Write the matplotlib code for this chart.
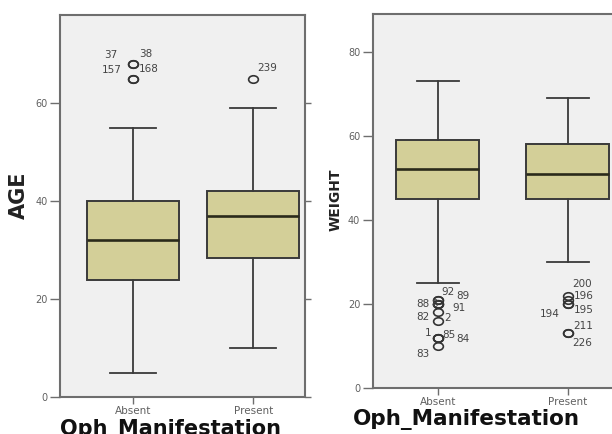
import matplotlib
matplotlib.use("Agg")
import matplotlib.pyplot as plt
from matplotlib.path import Path
from matplotlib.transforms import Affine2D

groups = ["Absent", "Present"]

# AGE summary (whisker low, Q1, median, Q3, whisker high)
age_stats = [[5, 24, 32, 40, 55], [10, 28.5, 37, 42, 59]]
age_out = [[68, 68, 65, 65], [65]]
age_out_labels = [["37", "38", "157", "168"], ["239"]]

# WEIGHT summary
wt_stats = [[25, 45, 52, 59, 73], [30, 45, 51, 58, 69]]
wt_out = [[21, 21, 20, 20, 20, 18, 16, 12, 12, 12, 10],
          [22, 21, 20, 20, 13, 13]]
wt_out_labels = [["92", "89", "88", "8", "91", "82", "2", "1", "85", "84", "83"],
                 ["200", "196", "195", "194", "211", "226"]]

# label offsets in pixels (left edge, vertical centre) from the point
age_offs = [[(-29, 9), (6, 10), (-31, 9), (6, 10)], [(4, 11)]]
wt_offs = [[(4, 8), (19, 4), (-21, 0), (-6, 0), (15, -4), (-21, -5), (7, 3),
            (-13, 5), (5, 3), (19, -1), (-21, -8)],
           [(4, 12), (6, 4), (6, -6), (-28, -10), (5, 7), (4, -10)]]

BOX = "#d3cf98"
EDGE = "#3a3a3a"
BG = "#f0f0f0"
SPINE = "#6e6e6e"

oval = Path.unit_circle().transformed(Affine2D().scale(1.3, 1.0))


def make_stats(stats, outs):
    res = []
    for s, o, g in zip(stats, outs, groups):
        res.append(dict(whislo=s[0], q1=s[1], med=s[2], q3=s[3], whishi=s[4],
                        fliers=o, label=g))
    return res


def draw(ax, stats, outs, labels, offs, width):
    ax.set_facecolor(BG)
    ax.bxp(make_stats(stats, outs), positions=[1, 2], widths=width,
           patch_artist=True,
           boxprops=dict(facecolor=BOX, edgecolor=EDGE, linewidth=1.4),
           medianprops=dict(color="#2a2a1a", linewidth=1.9),
           whiskerprops=dict(color=EDGE, linewidth=1.3),
           capprops=dict(color=EDGE, linewidth=1.3),
           capwidths=width * 0.5,
           flierprops=dict(marker=oval, markersize=7, markerfacecolor="none",
                           markeredgecolor="#333333", markeredgewidth=1.2))
    for i in range(2):
        for v, lab, off in zip(outs[i], labels[i], offs[i]):
            ax.annotate(lab, (i + 1, v), xytext=off, textcoords="offset pixels",
                        fontsize=7.5, color="#444444", ha="left", va="center")
    for sp in ax.spines.values():
        sp.set_color(SPINE)
        sp.set_linewidth(1.5)
    ax.tick_params(axis="both", colors=SPINE, labelcolor="#606060", width=1)
    ax.tick_params(axis="y", labelsize=7, length=7, pad=2)
    ax.tick_params(axis="x", labelsize=7.5, length=5, pad=1.5)


fig = plt.figure(figsize=(6.12, 4.34), dpi=100)

ax1 = fig.add_axes([0.098, 0.085, 0.400, 0.880])
draw(ax1, age_stats, age_out, age_out_labels, age_offs, 0.77)
ax1.set_xlim(0.39, 2.43)
ax1.set_ylim(0, 78)
ax1.set_yticks([0, 20, 40, 60])
ax1.tick_params(axis="y", which="major", right=True)
for t in ax1.yaxis.get_major_ticks():
    t.tick2line.set_markersize(4)
ax1.set_xticklabels(groups)
ax1.set_ylabel("AGE", fontsize=15, fontweight="bold", color="#222222")
ax1.yaxis.set_label_coords(-0.128, 0.529)
ax1.set_xlabel("Oph_Manifestation", fontsize=15, fontweight="heavy",
               color="#111111")
ax1.xaxis.set_label_coords(0.453, -0.058)

ax2 = fig.add_axes([0.609, 0.106, 0.425, 0.862])
draw(ax2, wt_stats, wt_out, wt_out_labels, wt_offs, 0.64)
ax2.set_xlim(0.5, 2.5)
ax2.set_ylim(0, 89)
ax2.set_yticks([0, 20, 40, 60, 80])
ax2.spines["right"].set_visible(False)
ax2.set_xticklabels(groups)
ax2.set_ylabel("WEIGHT", fontsize=10, fontweight="bold", color="#222222")
ax2.yaxis.set_label_coords(-0.117, 0.503)
ax2.set_xlabel("Oph_Manifestation", fontsize=15.5, fontweight="heavy",
               color="#111111")
ax2.xaxis.set_label_coords(0.36, -0.056)

fig.savefig("out.png", dpi=100)
